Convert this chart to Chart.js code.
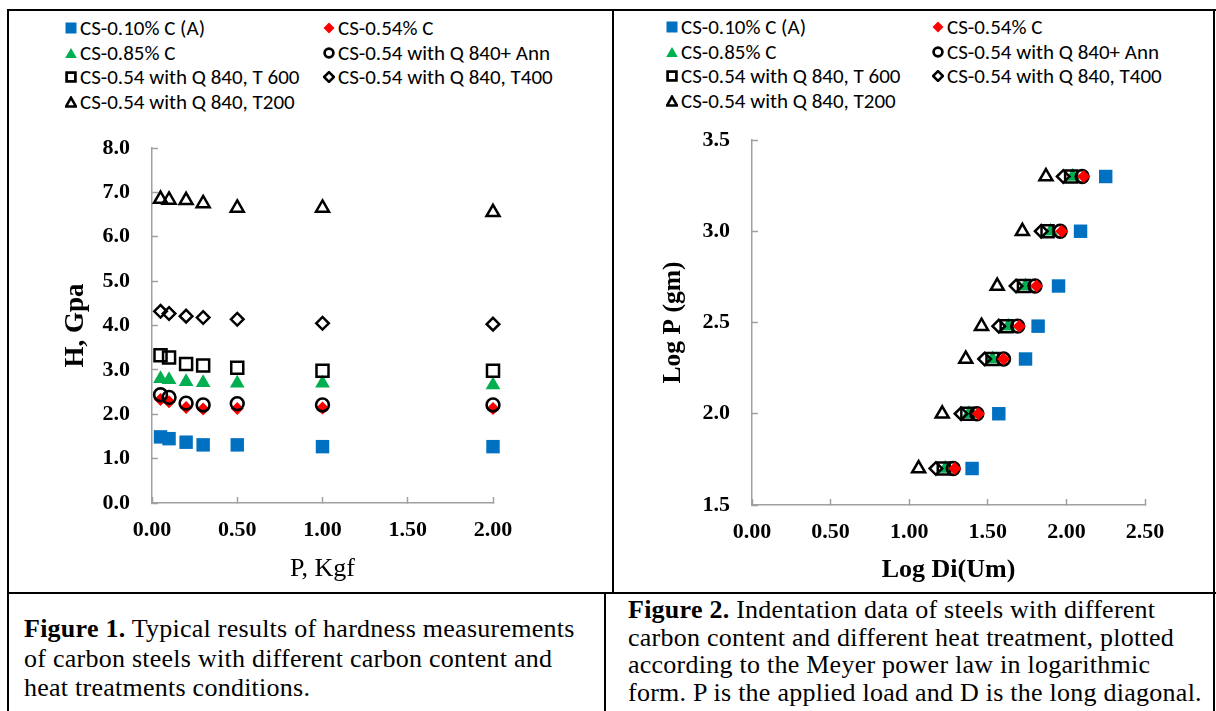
<!DOCTYPE html>
<html lang="en">
<head>
<meta charset="UTF-8">
<title>Hardness of carbon steels</title>
<script src="https://cdn.jsdelivr.net/npm/chart.js"></script>
<style>
  body { margin: 0; background: #fff; width: 1216px; height: 711px; overflow: hidden; position: relative; }
  .rule { position: absolute; background: #000; }
  canvas { position: absolute; }
  .legend { position: absolute; left: 0; top: 0; font-family: Carlito, Lato, sans-serif; font-size: 21px; color: #000; }
  .legend .item { position: absolute; white-space: nowrap; display: flex; align-items: center; height: 24px; }
  .legend svg { margin-right: 3px; flex: none; }
  .caption { position: absolute; font-family: "Liberation Serif", "Times New Roman", serif; font-size: 26px; letter-spacing: 0.25px; color: #000; white-space: nowrap; }
</style>
</head>
<body>
  <!-- table rules -->
  <div class="rule" style="left:7px;top:9px;width:1209px;height:2px"></div>
  <div class="rule" style="left:7px;top:9px;width:2px;height:702px"></div>
  <div class="rule" style="left:1213px;top:9px;width:2px;height:702px"></div>
  <div class="rule" style="left:612px;top:9px;width:2px;height:585px"></div>
  <div class="rule" style="left:7px;top:592px;width:1209px;height:2px"></div>
  <div class="rule" style="left:604px;top:592px;width:2px;height:119px"></div>

  <div class="legend" id="legend1"></div>
  <div class="legend" id="legend2"></div>

  <canvas id="hardness" width="600" height="487" style="left:10px;top:103px"></canvas>
  <canvas id="meyer" width="598" height="495" style="left:615px;top:95px"></canvas>

  <div class="caption" style="left:24px;top:614px;line-height:29.5px">
    <b>Figure 1.</b> Typical results of hardness measurements<br>
    of carbon steels with different carbon content and<br>
    heat treatments conditions.
  </div>
  <div class="caption" style="left:628px;top:596px;line-height:27.7px">
    <b>Figure 2.</b> Indentation data of steels with different<br>
    carbon content and different heat treatment, plotted<br>
    according to the Meyer power law in logarithmic<br>
    form. P is the applied load and D is the long diagonal.
  </div>

<script>
// ---- data ----
const seriesNames = [
  'CS-0.10% C (A)',
  'CS-0.54% C',
  'CS-0.85% C',
  'CS-0.54 with Q 840+ Ann',
  'CS-0.54 with Q 840, T 600',
  'CS-0.54 with Q 840, T400',
  'CS-0.54 with Q 840, T200'
];

// Figure 1: hardness H (GPa) vs load P (kgf)
const loadKgf = [0.05, 0.1, 0.2, 0.3, 0.5, 1.0, 2.0];
const hCs010 = [1.49, 1.45, 1.37, 1.31, 1.31, 1.27, 1.27];
const hCs054 = [2.33, 2.28, 2.15, 2.12, 2.13, 2.14, 2.13];
const hCs085 = [2.80, 2.78, 2.73, 2.71, 2.70, 2.70, 2.66];
const hAnn = [2.44, 2.38, 2.25, 2.21, 2.24, 2.21, 2.21];
const hT600 = [3.33, 3.28, 3.13, 3.10, 3.05, 2.98, 2.98];
const hT400 = [4.32, 4.27, 4.21, 4.18, 4.14, 4.05, 4.03];
const hT200 = [6.85, 6.83, 6.82, 6.75, 6.65, 6.65, 6.55];

// Figure 2: log P (gm) vs log Di (um)
const logP = [1.70, 2.00, 2.30, 2.48, 2.70, 3.00, 3.30];
const dCs010 = [1.40, 1.57, 1.74, 1.82, 1.95, 2.09, 2.25];
const dCs054 = [1.29, 1.44, 1.60, 1.70, 1.81, 1.97, 2.11];
const dCs085 = [1.23, 1.38, 1.53, 1.63, 1.74, 1.90, 2.04];
const dAnn = [1.28, 1.43, 1.60, 1.69, 1.80, 1.96, 2.10];
const dT600 = [1.22, 1.37, 1.53, 1.62, 1.73, 1.88, 2.03];
const dT400 = [1.17, 1.33, 1.48, 1.57, 1.68, 1.84, 1.98];
const dT200 = [1.06, 1.21, 1.36, 1.46, 1.56, 1.72, 1.87];

// ---- marker styles (same order as seriesNames) ----
const markers = [
  { pointStyle: 'rect', radius: 9.5, backgroundColor: '#0070c0', borderColor: '#0070c0', borderWidth: 0 },
  { pointStyle: 'rectRot', radius: 6.5, backgroundColor: '#ff0000', borderColor: '#ff0000', borderWidth: 0 },
  { pointStyle: 'triangle', radius: 8.5, backgroundColor: '#00b050', borderColor: '#00b050', borderWidth: 0 },
  { pointStyle: 'circle', radius: 6.4, backgroundColor: 'rgba(0,0,0,0)', borderColor: '#000', borderWidth: 2.6 },
  { pointStyle: 'rect', radius: 8.5, backgroundColor: 'rgba(0,0,0,0)', borderColor: '#000', borderWidth: 2.5 },
  { pointStyle: 'rectRot', radius: 6.3, backgroundColor: 'rgba(0,0,0,0)', borderColor: '#000', borderWidth: 2.5 },
  { pointStyle: 'triangle', radius: 7.5, backgroundColor: 'rgba(0,0,0,0)', borderColor: '#000', borderWidth: 2.5 }
];

// little svg glyphs for the html legend
const legendSvg = [
  '<rect x="0.5" y="0.5" width="11" height="11" fill="#0070c0"/>',
  '<polygon points="6,0.5 11.5,6 6,11.5 0.5,6" fill="#ff0000"/>',
  '<polygon points="6,1 11.8,11 0.2,11" fill="#00b050"/>',
  '<circle cx="6" cy="6" r="4.4" fill="none" stroke="#000" stroke-width="2.7"/>',
  '<rect x="1.6" y="1.6" width="8.8" height="8.8" fill="none" stroke="#000" stroke-width="2.7"/>',
  '<polygon points="6,1.1 10.9,6 6,10.9 1.1,6" fill="none" stroke="#000" stroke-width="2.5"/>',
  '<polygon points="6,1.6 11,10.6 1,10.6" fill="none" stroke="#000" stroke-width="2.5" stroke-linejoin="miter"/>'
];

// col = marker centre x, rows = text centre y
function buildLegend(el, cols, rows) {
  seriesNames.forEach((name, i) => {
    const item = document.createElement('div');
    item.className = 'item';
    item.style.left = (cols[i % 2] - 6) + 'px';
    item.style.top = (rows[Math.floor(i / 2)] - 12) + 'px';
    item.innerHTML = '<svg width="12" height="12" viewBox="0 0 12 12">' + legendSvg[i] + '</svg><span>' + name + '</span>';
    el.appendChild(item);
  });
}
buildLegend(document.getElementById('legend1'), [71, 329], [28, 52.5, 77, 101.5]);
buildLegend(document.getElementById('legend2'), [672, 938], [27, 51.5, 76, 100.5]);

// ---- shared axis styling ----
const serif = '"Liberation Serif", "Times New Roman", serif';
const axisGray = '#a0a0a0';
const tickFont = { family: serif, size: 22, weight: 'bold' };

function axis(min, max, step, digits, pad, title, titleFont, titlePad, fit) {
  return {
    type: 'linear',
    min: min,
    max: max,
    ticks: {
      stepSize: step,
      autoSkip: false,
      maxRotation: 0,
      color: '#000',
      font: tickFont,
      padding: pad,
      callback: v => v.toFixed(digits)
    },
    // negative tick length puts the tick marks inside the plot, like the original
    grid: { display: true, drawOnChartArea: false, drawTicks: true, tickLength: -6, tickColor: axisGray, tickWidth: 1.5 },
    border: { display: true, color: axisGray, width: 1.5 },
    title: { display: true, text: title, color: '#000', font: titleFont, padding: titlePad },
    afterFit: fit
  };
}

function makeDatasets(xs, ysList, swap, orders) {
  return ysList.map((ys, i) => ({
    label: seriesNames[i],
    data: xs.map((x, k) => swap ? { x: ys[k], y: x } : { x: x, y: ys[k] }),
    pointStyle: markers[i].pointStyle,
    pointRadius: markers[i].radius,
    pointBackgroundColor: markers[i].backgroundColor,
    pointBorderColor: markers[i].borderColor,
    pointBorderWidth: markers[i].borderWidth,
    showLine: false,
    clip: false,
    order: orders[i]
  }));
}

const baseOptions = {
  responsive: false,
  animation: false,
  events: [],
  plugins: { legend: { display: false }, tooltip: { enabled: false } }
};

// Figure 1
new Chart(document.getElementById('hardness'), {
  type: 'scatter',
  data: {
    datasets: makeDatasets(loadKgf, [hCs010, hCs054, hCs085, hAnn, hT600, hT400, hT200], false, [7, 6, 5, 4, 3, 2, 1])
  },
  options: Object.assign({}, baseOptions, {
    layout: { padding: { left: 0, top: 45, right: 117, bottom: 0 } },
    scales: {
      x: axis(0, 2, 0.5, 2, 20, 'P, Kgf', { family: serif, size: 26 }, { top: 0, bottom: 5 }, s => { s.height = 87; }),
      y: axis(0, 8, 1, 1, 28, 'H, Gpa', { family: serif, size: 27, weight: 'bold' }, { top: 50, bottom: 0 }, s => { s.width = 142; })
    }
  })
});

// Figure 2
new Chart(document.getElementById('meyer'), {
  type: 'scatter',
  data: {
    datasets: makeDatasets(logP, [dCs010, dCs054, dCs085, dAnn, dT600, dT400, dT200], true, [7, 1, 6, 5, 4, 3, 2])
  },
  options: Object.assign({}, baseOptions, {
    layout: { padding: { left: 0, top: 45, right: 68, bottom: 0 } },
    scales: {
      x: axis(0, 2.5, 0.5, 2, 20, 'Log Di(Um)', { family: serif, size: 26, weight: 'bold' }, { top: 0, bottom: 4 }, s => { s.height = 85; }),
      y: axis(1.5, 3.5, 0.5, 1, 28, 'Log P (gm)', { family: serif, size: 25.5, weight: 'bold' }, { top: 43, bottom: 0 }, s => { s.width = 137; })
    }
  })
});
</script>
</body>
</html>
